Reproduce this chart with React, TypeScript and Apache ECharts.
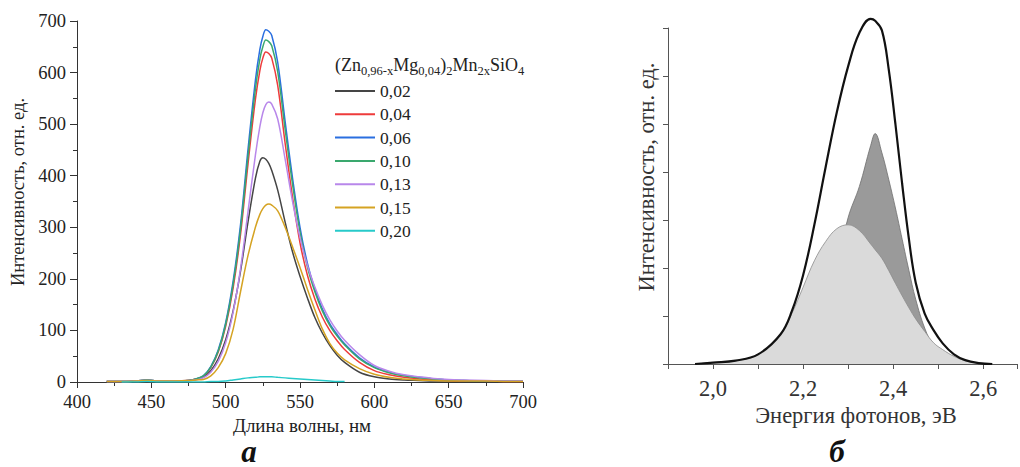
import React, { useEffect, useRef } from "react";
import * as echarts from "echarts";

// ---- Panel а: photoluminescence spectra of (Zn0.96-xMg0.04)2Mn2xSiO4 ----
const wavelengths = [420, 430, 440, 447, 455, 465, 475, 480, 485, 490, 495, 500, 505, 510, 515, 520, 523, 525, 527, 529, 531, 535, 540, 545, 550, 555, 560, 565, 570, 575, 580, 590, 600, 610, 620, 630, 640, 650, 660, 675, 690, 700];

const seriesNames = ["0,02", "0,04", "0,06", "0,10", "0,13", "0,15", "0,20"];
const seriesColors = ["#454545", "#ee3b3b", "#2a6fe0", "#3aa86e", "#b887ea", "#d5a323", "#27caca"];

const int002 = [1, 1, 2, 3, 2, 2, 3, 5, 10, 22, 45, 82, 138, 215, 310, 395, 428, 435, 432, 424, 410, 372, 310, 252, 205, 163, 125, 95, 71, 52, 38, 19, 10, 6, 4, 3, 2, 2, 1, 1, 1, 1];
const int004 = [1, 1, 2, 4, 2, 2, 3, 6, 11, 28, 58, 108, 182, 286, 422, 548, 604, 628, 640, 637, 628, 575, 463, 358, 270, 207, 161, 126, 100, 80, 63, 38, 22, 14, 9, 6, 4, 3, 2, 2, 1, 1];
const int006 = [1, 1, 2, 4, 2, 2, 3, 6, 12, 30, 62, 115, 195, 305, 450, 585, 645, 670, 683, 680, 672, 620, 505, 395, 300, 230, 180, 142, 113, 92, 74, 47, 29, 19, 13, 9, 6, 4, 3, 2, 2, 2];
const int010 = [1, 1, 2, 4, 2, 2, 3, 6, 12, 29, 60, 112, 189, 296, 437, 568, 626, 650, 663, 660, 652, 602, 490, 383, 291, 223, 175, 138, 110, 89, 72, 45, 28, 18, 12, 8, 6, 4, 3, 2, 2, 2];
const int013 = [1, 1, 2, 3, 2, 2, 3, 4, 8, 19, 40, 76, 135, 220, 330, 440, 495, 522, 538, 543, 539, 510, 432, 350, 280, 226, 184, 149, 121, 99, 81, 53, 32, 21, 14, 10, 7, 5, 4, 3, 2, 2];
const int015 = [1, 1, 2, 3, 2, 2, 3, 4, 5, 12, 28, 55, 102, 175, 245, 300, 325, 336, 343, 345, 343, 332, 300, 262, 222, 180, 140, 103, 75, 56, 43, 26, 15, 9, 6, 4, 3, 2, 2, 2, 1, 1];
const int020 = [null, 0, 0, 1, 0, 0, 0, 0, 0, 1, 1, 2, 4, 6, 8, 9, 10, 10, 10, 10, 10, 9, 8, 7, 6, 5, 4, 3, 2, 1, 1, null, null, null, null, null, null, null, null, null, null, null];

const spectra = [int002, int004, int006, int010, int013, int015, int020];

const wlTicks = [400, 700, 50];
const intTicks = [0, 700, 100];

// Legend heading: [text, isSubscript]
const formulaParts: [string, boolean][] = [
  ["(Zn", false], ["0,96-x", true], ["Mg", false], ["0,04", true], [")", false],
  ["2", true], ["Mn", false], ["2x", true], ["SiO", false], ["4", true],
];

// ---- Panel б: decomposition of the emission band into two components ----
const energies = [1.96, 2.0, 2.05, 2.1, 2.15, 2.175, 2.2, 2.225, 2.25, 2.275, 2.3, 2.325, 2.35, 2.36, 2.375, 2.39, 2.405, 2.42, 2.435, 2.45, 2.47, 2.49, 2.51, 2.535, 2.56, 2.59, 2.62];
const envelope = [0, 0.03, 0.07, 0.2, 0.62, 1.1, 1.85, 2.9, 4.1, 5.25, 6.2, 6.9, 7.19, 7.15, 6.95, 6.15, 5.0, 3.75, 2.6, 1.7, 1.05, 0.7, 0.43, 0.2, 0.08, 0.02, 0];
const bandLow = [0, 0.03, 0.07, 0.2, 0.62, 1.05, 1.6, 2.15, 2.55, 2.82, 2.9, 2.78, 2.5, 2.38, 2.2, 1.95, 1.68, 1.42, 1.17, 0.94, 0.68, 0.44, 0.3, 0.16, 0.07, 0.02, 0];
const bandHigh = [0, 0, 0, 0.01, 0.05, 0.12, 0.3, 0.65, 1.2, 2.0, 3.05, 3.7, 4.55, 4.8, 4.4, 3.85, 3.25, 2.6, 1.95, 1.35, 0.75, 0.36, 0.15, 0.05, 0.01, 0, 0];

const energyRange = [1.9, 2.675, 0.1];
const relRange = [0, 7, 1];

const SERIF = "Liberation Serif";

const pairs = (xs: number[], ys: (number | null)[]) =>
  xs.map((x, i) => [x, ys[i] === null ? "-" : ys[i]]);

function textWidth(text: string, size: number): number {
  const ctx = document.createElement("canvas").getContext("2d");
  if (!ctx) return text.length * size * 0.5;
  ctx.font = `${size}px "${SERIF}"`;
  return ctx.measureText(text).width;
}

// Chemical formula with subscripts, laid out piece by piece.
function formulaGraphic(x0: number, yMid: number) {
  const out: any[] = [];
  let x = x0;
  for (const [txt, sub] of formulaParts) {
    const size = sub ? 12.5 : 18;
    out.push({
      type: "text",
      x,
      y: sub ? yMid + 6 : yMid,
      style: { text: txt, fontFamily: SERIF, fontSize: size, fill: "#222", align: "left", verticalAlign: "middle" },
    });
    x += textWidth(txt, size);
  }
  return out;
}

export default function App() {
  const ref = useRef<HTMLDivElement>(null);

  useEffect(() => {
    if (!ref.current) return;
    const chart = echarts.init(ref.current, undefined, { renderer: "svg" });

    const axisLineA = { lineStyle: { color: "#333", width: 1 } };
    const axisLineB = { lineStyle: { color: "#555", width: 1 } };

    const spectrumSeries = spectra.map((vals, i) => ({
      name: seriesNames[i],
      type: "line",
      xAxisIndex: 0,
      yAxisIndex: 0,
      data: pairs(wavelengths, vals),
      smooth: 0.35,
      showSymbol: false,
      symbol: "none",
      lineStyle: { color: seriesColors[i], width: 1.5 },
      itemStyle: { color: seriesColors[i] },
      z: 2 + i,
    }));

    const bandSeries = (name: string, vals: number[], line: any, area: any, z: number) => ({
      name,
      type: "line",
      xAxisIndex: 1,
      yAxisIndex: 1,
      data: pairs(energies, vals),
      smooth: 0.4,
      symbol: "none",
      clip: false,
      lineStyle: line,
      areaStyle: area,
      z,
    });

    const option = {
      animation: false,
      textStyle: { fontFamily: SERIF },
      grid: [
        { left: 77, top: 21, width: 446, height: 361 },
        { left: 668, top: 28, width: 352, height: 336 },
      ],
      legend: {
        data: seriesNames,
        orient: "vertical",
        left: 335,
        top: 82,
        padding: 0,
        itemWidth: 40,
        itemHeight: 2,
        itemGap: 5.3,
        icon: "rect",
        textStyle: { fontFamily: SERIF, fontSize: 17.5, color: "#222", lineHeight: 16 },
      },
      xAxis: [
        {
          type: "value",
          gridIndex: 0,
          min: wlTicks[0],
          max: wlTicks[1],
          interval: wlTicks[2],
          axisLine: axisLineA,
          axisTick: { show: true, length: 6, lineStyle: { color: "#333" } },
          minorTick: { show: true, splitNumber: 2, length: 4, lineStyle: { color: "#333" } },
          splitLine: { show: false },
          axisLabel: { fontFamily: SERIF, fontSize: 18.5, color: "#222", margin: 10 },
        },
        {
          type: "value",
          gridIndex: 1,
          min: energyRange[0],
          max: energyRange[1],
          interval: energyRange[2],
          axisLine: axisLineB,
          axisTick: { show: true, length: 5, lineStyle: { color: "#555" } },
          splitLine: { show: false },
          axisLabel: {
            fontFamily: SERIF,
            fontSize: 22.5,
            color: "#333",
            margin: 13,
            formatter: (v: number) => {
              const k = Math.round(v * 10);
              return k >= 20 && k % 2 === 0 ? (k / 10).toFixed(1).replace(".", ",") : "";
            },
          },
        },
      ],
      yAxis: [
        {
          type: "value",
          gridIndex: 0,
          min: intTicks[0],
          max: intTicks[1],
          interval: intTicks[2],
          axisLine: { show: true, ...axisLineA },
          axisTick: { show: true, length: 7, lineStyle: { color: "#333" } },
          minorTick: { show: true, splitNumber: 2, length: 4, lineStyle: { color: "#333" } },
          splitLine: { show: false },
          axisLabel: { fontFamily: SERIF, fontSize: 18.5, color: "#222", margin: 11 },
        },
        {
          type: "value",
          gridIndex: 1,
          min: relRange[0],
          max: relRange[1],
          interval: relRange[2],
          axisLine: { show: true, ...axisLineB },
          axisTick: { show: true, length: 5, lineStyle: { color: "#555" } },
          splitLine: { show: false },
          axisLabel: { show: false },
        },
      ],
      series: [
        ...spectrumSeries,
        bandSeries("band-high", bandHigh, { color: "#6e6e6e", width: 0.8 }, { color: "#9a9a9a", opacity: 1 }, 2),
        bandSeries("band-low", bandLow, { color: "#8c8c8c", width: 0.8 }, { color: "#dadada", opacity: 1 }, 3),
        bandSeries("envelope", envelope, { color: "#111", width: 2.2 }, undefined, 4),
      ],
      graphic: [
        {
          type: "text",
          x: 18,
          y: 192,
          rotation: Math.PI / 2,
          style: { text: "Интенсивность, отн. ед.", fontFamily: SERIF, fontSize: 18.5, fill: "#222", align: "center", verticalAlign: "middle" },
        },
        {
          type: "text",
          x: 302,
          y: 425,
          style: { text: "Длина волны, нм", fontFamily: SERIF, fontSize: 19, fill: "#222", align: "center", verticalAlign: "middle" },
        },
        {
          type: "text",
          x: 249,
          y: 451,
          style: { text: "а", fontFamily: SERIF, fontSize: 31, fontWeight: "bold", fontStyle: "italic", fill: "#111", align: "center", verticalAlign: "middle" },
        },
        ...formulaGraphic(335, 65),
        {
          type: "text",
          x: 646,
          y: 177,
          rotation: Math.PI / 2,
          style: { text: "Интенсивность, отн. ед.", fontFamily: SERIF, fontSize: 22.5, fill: "#333", align: "center", verticalAlign: "middle" },
        },
        {
          type: "text",
          x: 856,
          y: 415,
          style: { text: "Энергия фотонов, эВ", fontFamily: SERIF, fontSize: 22.5, fill: "#333", align: "center", verticalAlign: "middle" },
        },
        {
          type: "text",
          x: 837,
          y: 451,
          style: { text: "б", fontFamily: SERIF, fontSize: 31, fontWeight: "bold", fontStyle: "italic", fill: "#111", align: "center", verticalAlign: "middle" },
        },
      ],
    };

    chart.setOption(option as any);
    return () => chart.dispose();
  }, []);

  return <div ref={ref} style={{ position: "absolute", left: 0, top: 0, width: 1020, height: 467 }} />;
}
